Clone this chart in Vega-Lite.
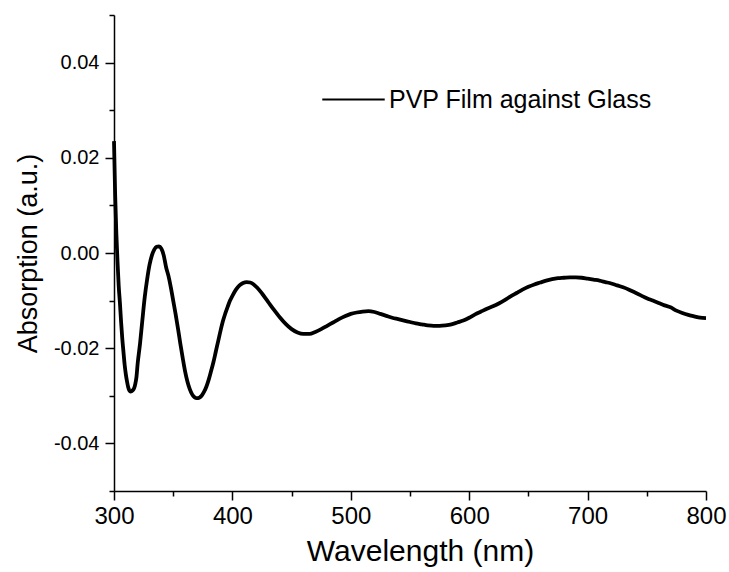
{
  "$schema": "https://vega.github.io/schema/vega-lite/v6.json",
  "autosize": "none",
  "padding": {"left": 114, "top": 15, "right": 23, "bottom": 81},
  "width": 592,
  "height": 476,
  "background": "white",
  "config": {
    "view": {"stroke": null},
    "font": "Liberation Sans",
    "axis": {"grid": false, "domainColor": "black", "tickColor": "black", "labelColor": "black", "titleColor": "black", "titleFontWeight": "normal", "domainWidth": 1.5, "tickWidth": 1.5, "labelFont": "Liberation Sans", "titleFont": "Liberation Sans"}
  },
  "data": {
    "values": [
      {"wl": 300, "abs": 0.0235}, {"wl": 301, "abs": 0.012}, {"wl": 302, "abs": 0.004}, {"wl": 303, "abs": -0.002},
      {"wl": 304, "abs": -0.007}, {"wl": 305, "abs": -0.0105}, {"wl": 306, "abs": -0.0145}, {"wl": 307, "abs": -0.018},
      {"wl": 308, "abs": -0.0208}, {"wl": 309, "abs": -0.0235}, {"wl": 310, "abs": -0.0255}, {"wl": 311, "abs": -0.027},
      {"wl": 312, "abs": -0.0282}, {"wl": 313, "abs": -0.0289}, {"wl": 314, "abs": -0.0291}, {"wl": 315, "abs": -0.029},
      {"wl": 316, "abs": -0.0288}, {"wl": 317, "abs": -0.0284}, {"wl": 318, "abs": -0.0275}, {"wl": 319, "abs": -0.026},
      {"wl": 320, "abs": -0.0232}, {"wl": 322, "abs": -0.019}, {"wl": 324, "abs": -0.014}, {"wl": 326, "abs": -0.0092},
      {"wl": 328, "abs": -0.0055}, {"wl": 330, "abs": -0.0025}, {"wl": 332, "abs": -0.0005}, {"wl": 334, "abs": 0.0007},
      {"wl": 336, "abs": 0.0013}, {"wl": 338, "abs": 0.0014}, {"wl": 340, "abs": 0.0009}, {"wl": 342, "abs": -0.0005},
      {"wl": 344, "abs": -0.003}, {"wl": 346, "abs": -0.0048}, {"wl": 348, "abs": -0.0072}, {"wl": 350, "abs": -0.0100},
      {"wl": 352, "abs": -0.0128}, {"wl": 354, "abs": -0.0158}, {"wl": 356, "abs": -0.019}, {"wl": 358, "abs": -0.022},
      {"wl": 360, "abs": -0.0248}, {"wl": 362, "abs": -0.027}, {"wl": 364, "abs": -0.0286}, {"wl": 366, "abs": -0.0297},
      {"wl": 368, "abs": -0.0303}, {"wl": 370, "abs": -0.0305}, {"wl": 372, "abs": -0.0304}, {"wl": 374, "abs": -0.03},
      {"wl": 376, "abs": -0.0292}, {"wl": 378, "abs": -0.0281}, {"wl": 380, "abs": -0.0266}, {"wl": 382, "abs": -0.0248},
      {"wl": 384, "abs": -0.0229}, {"wl": 386, "abs": -0.0207}, {"wl": 388, "abs": -0.0185}, {"wl": 390, "abs": -0.0163},
      {"wl": 392, "abs": -0.0143}, {"wl": 394, "abs": -0.0127}, {"wl": 396, "abs": -0.0113}, {"wl": 398, "abs": -0.0100},
      {"wl": 400, "abs": -0.009}, {"wl": 403, "abs": -0.0077}, {"wl": 406, "abs": -0.0068}, {"wl": 409, "abs": -0.0063},
      {"wl": 412, "abs": -0.0061}, {"wl": 415, "abs": -0.0062}, {"wl": 418, "abs": -0.0066}, {"wl": 421, "abs": -0.0073},
      {"wl": 425, "abs": -0.0085}, {"wl": 430, "abs": -0.0102}, {"wl": 435, "abs": -0.0119}, {"wl": 440, "abs": -0.0135},
      {"wl": 445, "abs": -0.0149}, {"wl": 450, "abs": -0.016}, {"wl": 455, "abs": -0.0167}, {"wl": 460, "abs": -0.017},
      {"wl": 465, "abs": -0.017}, {"wl": 470, "abs": -0.0166}, {"wl": 475, "abs": -0.016}, {"wl": 480, "abs": -0.0153},
      {"wl": 485, "abs": -0.0146}, {"wl": 490, "abs": -0.0139}, {"wl": 495, "abs": -0.0133}, {"wl": 500, "abs": -0.0128},
      {"wl": 505, "abs": -0.0125}, {"wl": 510, "abs": -0.0123}, {"wl": 515, "abs": -0.0122}, {"wl": 520, "abs": -0.0124},
      {"wl": 525, "abs": -0.0128}, {"wl": 530, "abs": -0.0132}, {"wl": 535, "abs": -0.0136}, {"wl": 540, "abs": -0.0139},
      {"wl": 545, "abs": -0.0142}, {"wl": 550, "abs": -0.0145}, {"wl": 555, "abs": -0.0148}, {"wl": 560, "abs": -0.015},
      {"wl": 565, "abs": -0.0152}, {"wl": 570, "abs": -0.0153}, {"wl": 575, "abs": -0.0153}, {"wl": 580, "abs": -0.0152},
      {"wl": 585, "abs": -0.015}, {"wl": 590, "abs": -0.0146}, {"wl": 595, "abs": -0.0142}, {"wl": 600, "abs": -0.0136},
      {"wl": 605, "abs": -0.0129}, {"wl": 610, "abs": -0.0123}, {"wl": 615, "abs": -0.0117}, {"wl": 620, "abs": -0.0112},
      {"wl": 625, "abs": -0.0106}, {"wl": 630, "abs": -0.0099}, {"wl": 635, "abs": -0.0091}, {"wl": 640, "abs": -0.0084},
      {"wl": 645, "abs": -0.0077}, {"wl": 650, "abs": -0.0071}, {"wl": 655, "abs": -0.0066}, {"wl": 660, "abs": -0.0062},
      {"wl": 665, "abs": -0.0058}, {"wl": 670, "abs": -0.0055}, {"wl": 675, "abs": -0.0053}, {"wl": 680, "abs": -0.0052},
      {"wl": 685, "abs": -0.0051}, {"wl": 690, "abs": -0.0051}, {"wl": 695, "abs": -0.0052}, {"wl": 700, "abs": -0.0054},
      {"wl": 705, "abs": -0.0056}, {"wl": 710, "abs": -0.0058}, {"wl": 715, "abs": -0.0061}, {"wl": 720, "abs": -0.0064},
      {"wl": 725, "abs": -0.0068}, {"wl": 730, "abs": -0.0072}, {"wl": 735, "abs": -0.0077}, {"wl": 740, "abs": -0.0083},
      {"wl": 745, "abs": -0.0089}, {"wl": 750, "abs": -0.0095}, {"wl": 755, "abs": -0.01}, {"wl": 760, "abs": -0.0105},
      {"wl": 765, "abs": -0.011}, {"wl": 770, "abs": -0.0114}, {"wl": 775, "abs": -0.0121}, {"wl": 780, "abs": -0.0126},
      {"wl": 785, "abs": -0.013}, {"wl": 790, "abs": -0.0133}, {"wl": 795, "abs": -0.0136}, {"wl": 800, "abs": -0.0137}
    ]
  },
  "transform": [{"calculate": "'PVP Film against Glass'", "as": "series"}],
  "layer": [
    {
      "mark": {"type": "line", "strokeWidth": 3.8, "interpolate": "monotone"},
      "encoding": {
        "x": {"field": "wl", "type": "quantitative", "scale": {"domain": [300, 800], "nice": false, "zero": false},
          "axis": {"title": "Wavelength (nm)", "values": [300, 400, 500, 600, 700, 800], "format": "d", "tickSize": 9, "labelFontSize": 24, "labelPadding": 4, "titleFontSize": 30, "titlePadding": 8, "titleX": 306, "labelFlush": false}},
        "y": {"field": "abs", "type": "quantitative", "scale": {"domain": [-0.05, 0.05], "nice": false, "zero": false},
          "axis": {"title": "Absorption (a.u.)", "values": [-0.04, -0.02, 0, 0.02, 0.04], "labelExpr": "replace(format(datum.value, '.2f'), '−', '-')", "tickSize": 9, "labelFontSize": 20, "labelPadding": 6, "titleFontSize": 27, "titlePadding": 11}},
        "color": {"field": "series", "type": "nominal", "scale": {"range": ["black"]},
          "legend": {"title": null, "orient": "none", "legendX": 207, "legendY": 52, "symbolType": "stroke", "symbolSize": 3900, "symbolStrokeWidth": 2, "labelFontSize": 25, "labelOffset": 3, "labelLimit": 600, "padding": 0, "labelColor": "black", "labelFont": "Liberation Sans"}}
      }
    },
    {
      "mark": {"type": "line", "strokeOpacity": 0},
      "encoding": {
        "x": {"field": "wl", "type": "quantitative", "axis": {"orient": "bottom", "title": null, "labels": false, "domain": false, "values": [350, 450, 550, 650, 750], "tickSize": 5}},
        "y": {"field": "abs", "type": "quantitative", "axis": {"orient": "left", "title": null, "labels": false, "domain": false, "values": [-0.05, -0.03, -0.01, 0.01, 0.03, 0.05], "tickSize": 5}}
      }
    }
  ],
  "resolve": {"axis": {"x": "independent", "y": "independent"}}
}
